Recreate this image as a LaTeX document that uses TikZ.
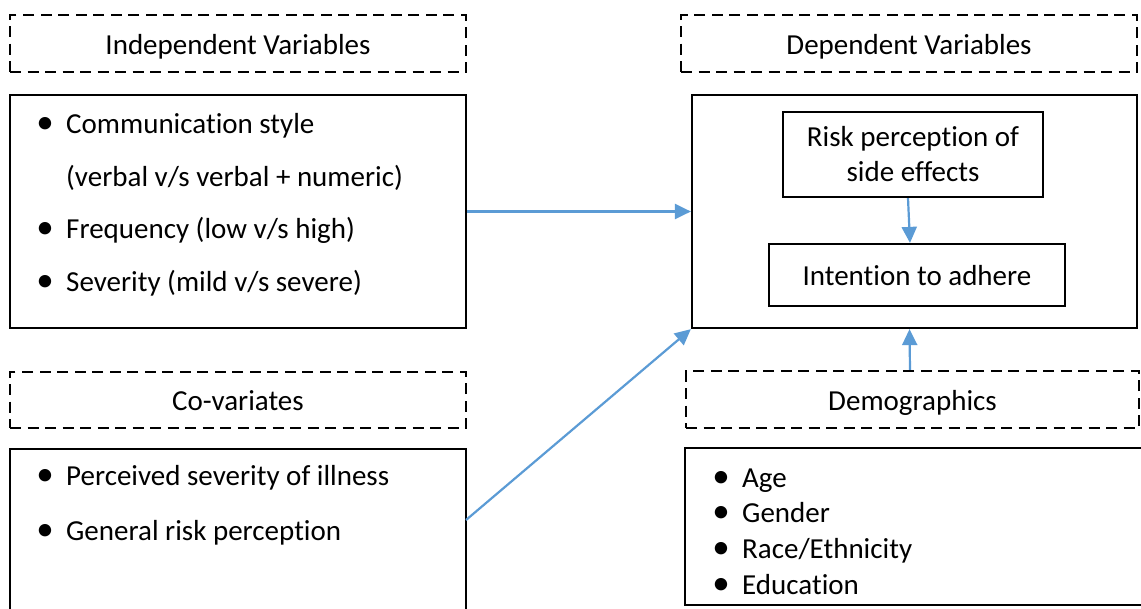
\documentclass[tikz,border=0pt]{standalone}
\usepackage{fontspec}
\setmainfont{Carlito}[Ligatures=NoCommon]
\usetikzlibrary{arrows.meta,calc}
\definecolor{linkblue}{HTML}{5B9BD5}
% bullet followed by the hanging indent of a list item
\newcommand\bulit{\makebox[12pt]{\smash{\raisebox{-0.5pt}{\fontsize{35}{35}\selectfont •}}}\hspace{15pt}}
\tikzset{
  every node/.style={font=\fontsize{29}{35}\selectfont},
  hdr/.style={draw, line width=2.4pt, dash pattern=on 11pt off 6.5pt,
    inner sep=0pt, text height=21pt, text depth=0pt},
  panel/.style={draw, line width=2.2pt, inner sep=0pt},
  inbox/.style={draw, line width=2.2pt, inner sep=0pt, align=center},
  itm/.style={anchor=base west, inner sep=0pt},
  arr/.style={draw=linkblue, line width=2.2pt,
    -{Triangle[length=16pt,width=15pt]}}
}
\begin{document}
\begin{tikzpicture}[x=1pt,y=-1pt]
\useasboundingbox (0,0) rectangle (1141,608);
\clip (0,0) rectangle (1141,608);

% section headers
\node[hdr, minimum width=456pt, minimum height=57pt] (ivh) at (238,43.5) {Independent Variables};
\node[hdr, minimum width=456pt, minimum height=57pt] (dvh) at (909,43.5) {Dependent Variables};
\node[hdr, minimum width=456pt, minimum height=56pt] (cvh) at (238,400) {Co-variates};
\node[hdr, minimum width=453pt, minimum height=57pt] (demoh) at (912.5,399.5) {Demographics};

% content panels
\node[panel, minimum width=456pt, minimum height=233pt] (iv) at (238,211.5) {};
\node[panel, minimum width=445pt, minimum height=233pt] (dv) at (914.5,211.5) {};
\node[panel, minimum width=456pt, minimum height=191pt] (cv) at (238,544.5) {};
\node[panel, minimum width=475pt, minimum height=157pt] (demo) at (922.5,526.5) {};

% outcome boxes inside the dependent panel
\node[inbox, minimum width=260pt, minimum height=85pt] (risk) at (913,154.5) {Risk perception of\\side effects};
\node[inbox, minimum width=296pt, minimum height=62pt, text height=21pt, text depth=0pt] (intent) at (917,275) {Intention to adhere};

% independent variables
\node[itm] (iv1) at (39,133) {\bulit Communication style};
\node[itm] (iv1b) at (66,186) {(verbal v/s verbal + numeric)};
\node[itm] (iv2) at (39,238) {\bulit Frequency (low v/s high)};
\node[itm] (iv3) at (39,291) {\bulit Severity (mild v/s severe)};

% co-variates
\node[itm] (cv1) at (39,485) {\bulit Perceived severity of illness};
\node[itm] (cv2) at (39,540) {\bulit General risk perception};

% demographics
\node[itm] (d1) at (715,487) {\bulit Age};
\node[itm] (d2) at (715,522) {\bulit Gender};
\node[itm] (d3) at (715,558) {\bulit Race/Ethnicity};
\node[itm] (d4) at (715,594) {\bulit Education};

% connectors
\coordinate (cvout) at (466,520);
\draw[arr] (iv.east) -- (dv.west);
\draw[arr] (cvout) -- (dv.south west);
\draw[arr] ($(demoh.north)+(-2.5,0)$) -- ($(dv.south)+(-5,0)$);
\draw[arr] ($(risk.south)+(-5,0)$) -- ($(intent.north)+(-7,0)$);
\end{tikzpicture}
\end{document}
